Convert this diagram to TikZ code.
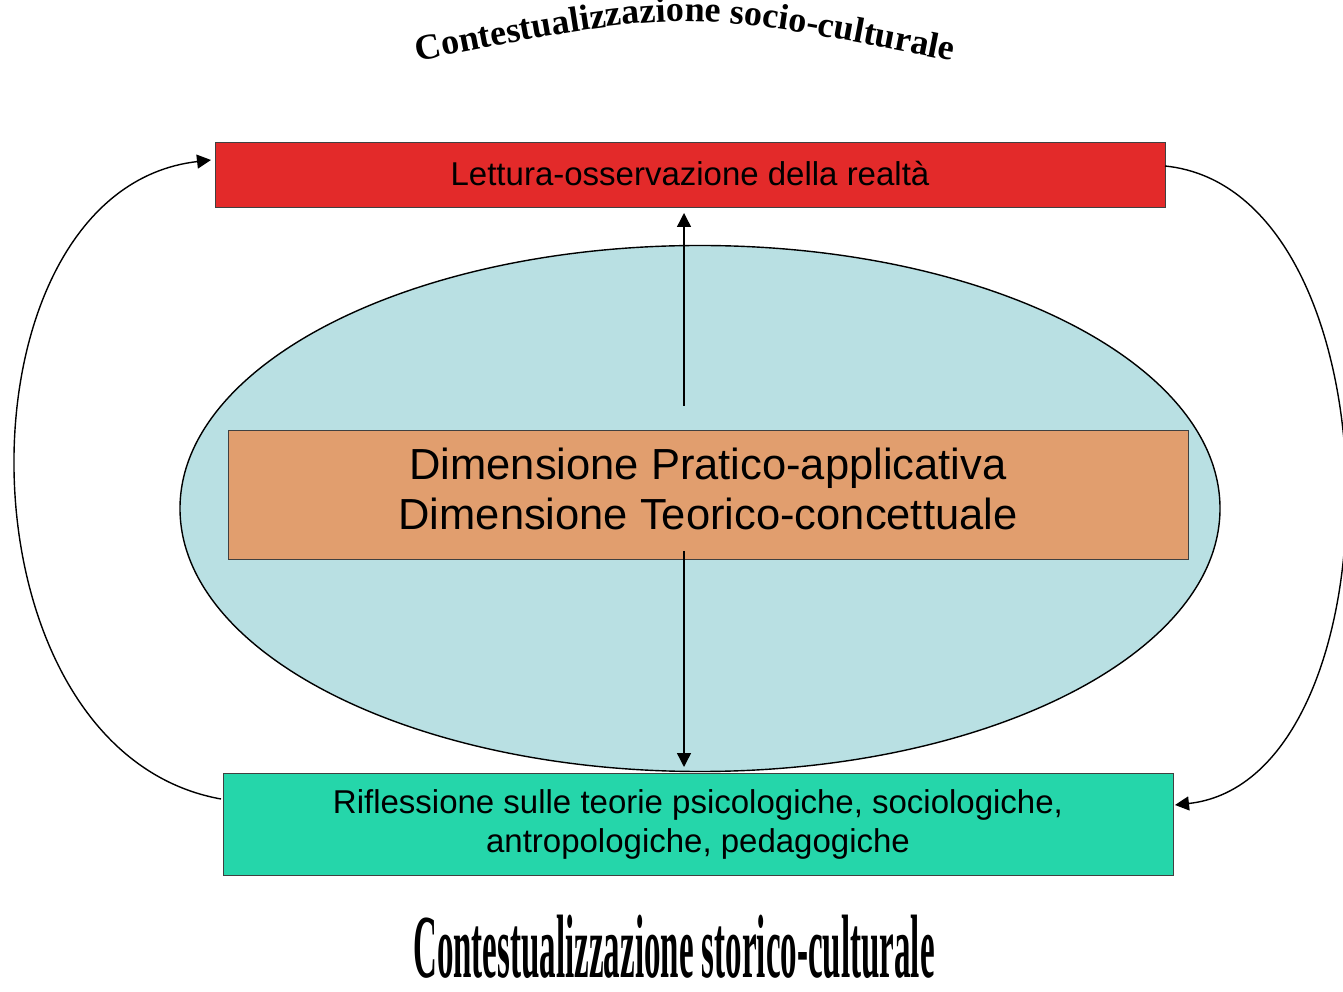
\documentclass[tikz,border=0pt]{standalone}
\usepackage{fontspec}
\usepackage{graphicx}
\setmainfont{Liberation Sans}
\newfontfamily\titlefont{Liberation Serif}
\usetikzlibrary{arrows.meta,decorations.text,shapes.geometric}
\definecolor{redbox}{RGB}{227,42,42}
\definecolor{orangebox}{RGB}{225,158,110}
\definecolor{ellfill}{RGB}{185,224,227}
\definecolor{greenbox}{RGB}{37,214,170}
\tikzset{
  box/.style={draw=black!75, line width=0.8pt, minimum width=#1, inner sep=0pt, align=center},
  conn/.style={line width=1.4pt, -{Triangle[length=14pt,width=14pt]}},
}
\begin{document}
\begin{tikzpicture}[x=1pt,y=1pt]
\useasboundingbox (0,0) rectangle (1343,991);
\fill[white] (0,0) rectangle (1343,991);
% ellipse
\node[ellipse, draw=black, line width=1.4pt, fill=ellfill, minimum width=1040pt, minimum height=526pt, inner sep=0pt] (ell) at (700,482.5) {};
% boxes
\node[box=950pt, fill=redbox, minimum height=65pt, font=\fontsize{33}{39}\selectfont] (red) at (690,816.5) {\raisebox{3pt}{Lettura-osservazione della realt\`a}};
\node[box=960pt, fill=orangebox, minimum height=129pt, font=\fontsize{43.5}{50}\selectfont] (orange) at (708,496.5) {\raisebox{4pt}{\begin{tabular}{@{}c@{}}Dimensione Pratico-applicativa\\Dimensione Teorico-concettuale\end{tabular}}};
\node[box=950pt, fill=greenbox, minimum height=102pt, font=\fontsize{33}{39}\selectfont] (green) at (698,167) {Riflessione sulle teorie psicologiche, sociologiche,\\antropologiche, pedagogiche};
% connector end points
\coordinate (upS) at (684,585);
\coordinate (upE) at (684,778);
\coordinate (dnS) at (684,440);
\coordinate (dnE) at (684,224);
\coordinate (lS) at (221,192);
\coordinate (lE) at (211,831);
\coordinate (rS) at (1165,825);
\coordinate (rE) at (1175,186);
\draw[conn] (upS) -- (upE);
\draw[conn] (dnS) -- (dnE);
\draw[conn] (lS) .. controls (-51,241) and (-51,801) .. (lE);
\draw[conn] (rS) .. controls (1403,801) and (1403,211) .. (rE);
% titles
\path[decorate, decoration={text along path, text align=center,
  text={|\titlefont\bfseries\fontsize{36}{36}\selectfont|Contestualizzazione socio-culturale}}]
  (413,929) .. controls (685,983) .. (957,929);
\node[anchor=base, inner sep=0pt] (bottomtitle) at (674,14) {\scalebox{0.66}[1.8]{\titlefont\bfseries\fontsize{50}{50}\selectfont Contestualizzazione storico-culturale}};
\end{tikzpicture}
\end{document}
